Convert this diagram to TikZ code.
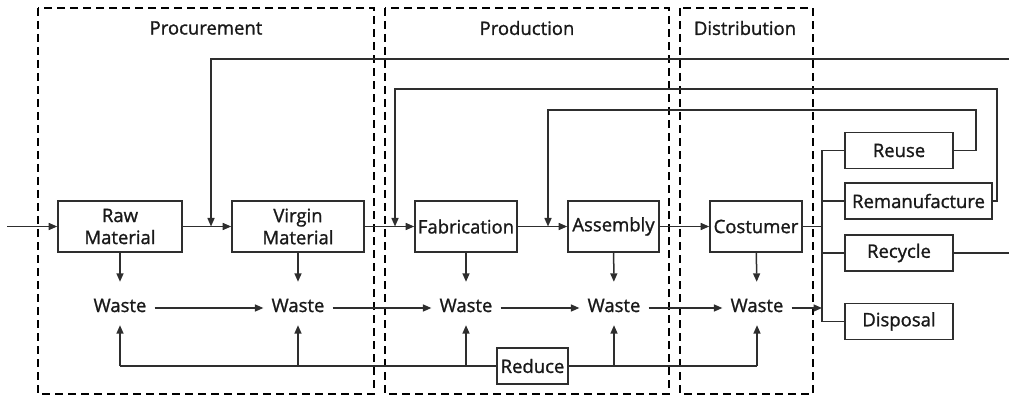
\documentclass[tikz,border=0pt]{standalone}
\usepackage{fontspec}
\setmainfont{Open Sans}[RawFeature={embolden=1.2}]
\usetikzlibrary{arrows.meta,calc}
\definecolor{ink}{HTML}{2E2E2E}
\begin{document}
\begin{tikzpicture}[x=1pt,y=-1pt,
  every node/.style={font=\fontsize{18.5}{22}\selectfont, text=black!90},
  box/.style={draw=ink, line width=1.6pt, fill=white, inner sep=0pt, align=center, minimum height=51pt},
  smallbox/.style={box, minimum height=36pt},
  wastenode/.style={inner xsep=8pt, inner ysep=0pt, text height=30pt, text depth=13pt, anchor=base},
  conn/.style={draw=ink, line width=1.5pt},
  arr/.style={conn, -{Triangle[length=8.5pt,width=7pt]}},
  zone/.style={draw=black, line width=2.6pt, dash pattern=on 8pt off 5pt},
]
\useasboundingbox (0,0) rectangle (1009,398);

% stage frames and their titles
\draw[zone] (38,8) rectangle (374,394);
\draw[zone] (385,8) rectangle (669,394);
\draw[zone] (680,8) rectangle (813,394);
\node (tproc) at (206,28) {Procurement};
\node (tprod) at (527,28) {Production};
\node (tdist) at (745,28) {Distribution};

% main chain
\node[box, minimum width=124pt] (raw) at (120,226.5) {Raw\\Material};
\node[box, minimum width=132pt] (virgin) at (298,226.5) {Virgin\\Material};
\node[box, minimum width=102pt] (fab) at (466,226.5) {Fabrication};
\node[box, minimum width=91pt] (asm) at (613.5,226.5) {Assembly};
\node[box, minimum width=92pt] (cost) at (756,226.5) {Costumer};

% end-of-life options
\node[smallbox, minimum width=108pt] (reuse) at (899,150.5) {Reuse};
\node[smallbox, minimum width=147pt] (reman) at (918.5,201) {Remanufacture};
\node[smallbox, minimum width=108pt] (recyc) at (899,253) {Recycle};
\node[smallbox, minimum width=108pt] (disp) at (899,321.5) {Disposal};

% waste streams
\node[wastenode] (w1) at (120,312) {Waste};
\node[wastenode] (w2) at (298,312) {Waste};
\node[wastenode] (w3) at (466,312) {Waste};
\node[wastenode] (w4) at (614,312) {Waste};
\node[wastenode] (w5) at (757,312) {Waste};

\node[smallbox, minimum width=71pt] (reduce) at (532.5,366) {Reduce};

% junction points
\coordinate (in) at (7,226.5);
\coordinate (j1) at (211,226.5);
\coordinate (j2) at (395,226.5);
\coordinate (j3) at (548,226.5);
\coordinate (f1) at (1009,59);
\coordinate (t2) at (395,89);
\coordinate (t3) at (548,110);
\coordinate (bus) at (822,226.5);
\coordinate (recout) at (1009,253);

% forward flow
\draw[arr] (in) -- (raw);
\draw[arr] (raw) -- (virgin);
\draw[arr] (virgin) -- (fab);
\draw[arr] (fab) -- (asm);
\draw[arr] (asm) -- (cost);

% waste generated at each stage
\foreach \b/\w in {raw/w1, virgin/w2, fab/w3, asm/w4, cost/w5}
  \draw[arr] (\b) -- (\w);
\draw[arr] ([yshift=-4.5pt]w1.east) -- ([yshift=-4.5pt]w2.west);
\draw[arr] ([yshift=-4.5pt]w2.east) -- ([yshift=-4.5pt]w3.west);
\draw[arr] ([yshift=-4.5pt]w3.east) -- ([yshift=-4.5pt]w4.west);
\draw[arr] ([yshift=-4.5pt]w4.east) -- ([yshift=-4.5pt]w5.west);
\draw[arr] ([yshift=-4.5pt]w5.east) -- ([yshift=-4.5pt]w5.east -| bus);

% reduction loop
\draw[conn] (reduce.west) -- (w1.south |- reduce.west);
\draw[conn] (reduce.east) -- (w5.south |- reduce.east);
\foreach \w in {w1,w2,w3}
  \draw[arr] (\w.south |- reduce.west) -- (\w.south);
\foreach \w in {w4,w5}
  \draw[arr] (\w.south |- reduce.east) -- (\w.south);

% distribution to end-of-life options
\draw[conn] (cost.east) -- (bus);
\draw[conn] (reuse.west) -| (bus) |- (disp.west);
\draw[conn] (reman.west) -- (reman.west -| bus);
\draw[conn] (recyc.west) -- (recyc.west -| bus);

% recovery loops
\draw[arr] (f1) -| (j1);
\draw[arr] (reman.east) -- ++(4,0) |- (t2) -- (j2);
\draw[arr] (reuse.east) -- ++(22,0) |- (t3) -- (j3);
\draw[conn] (recyc.east) -- (recout);
\end{tikzpicture}
\end{document}
